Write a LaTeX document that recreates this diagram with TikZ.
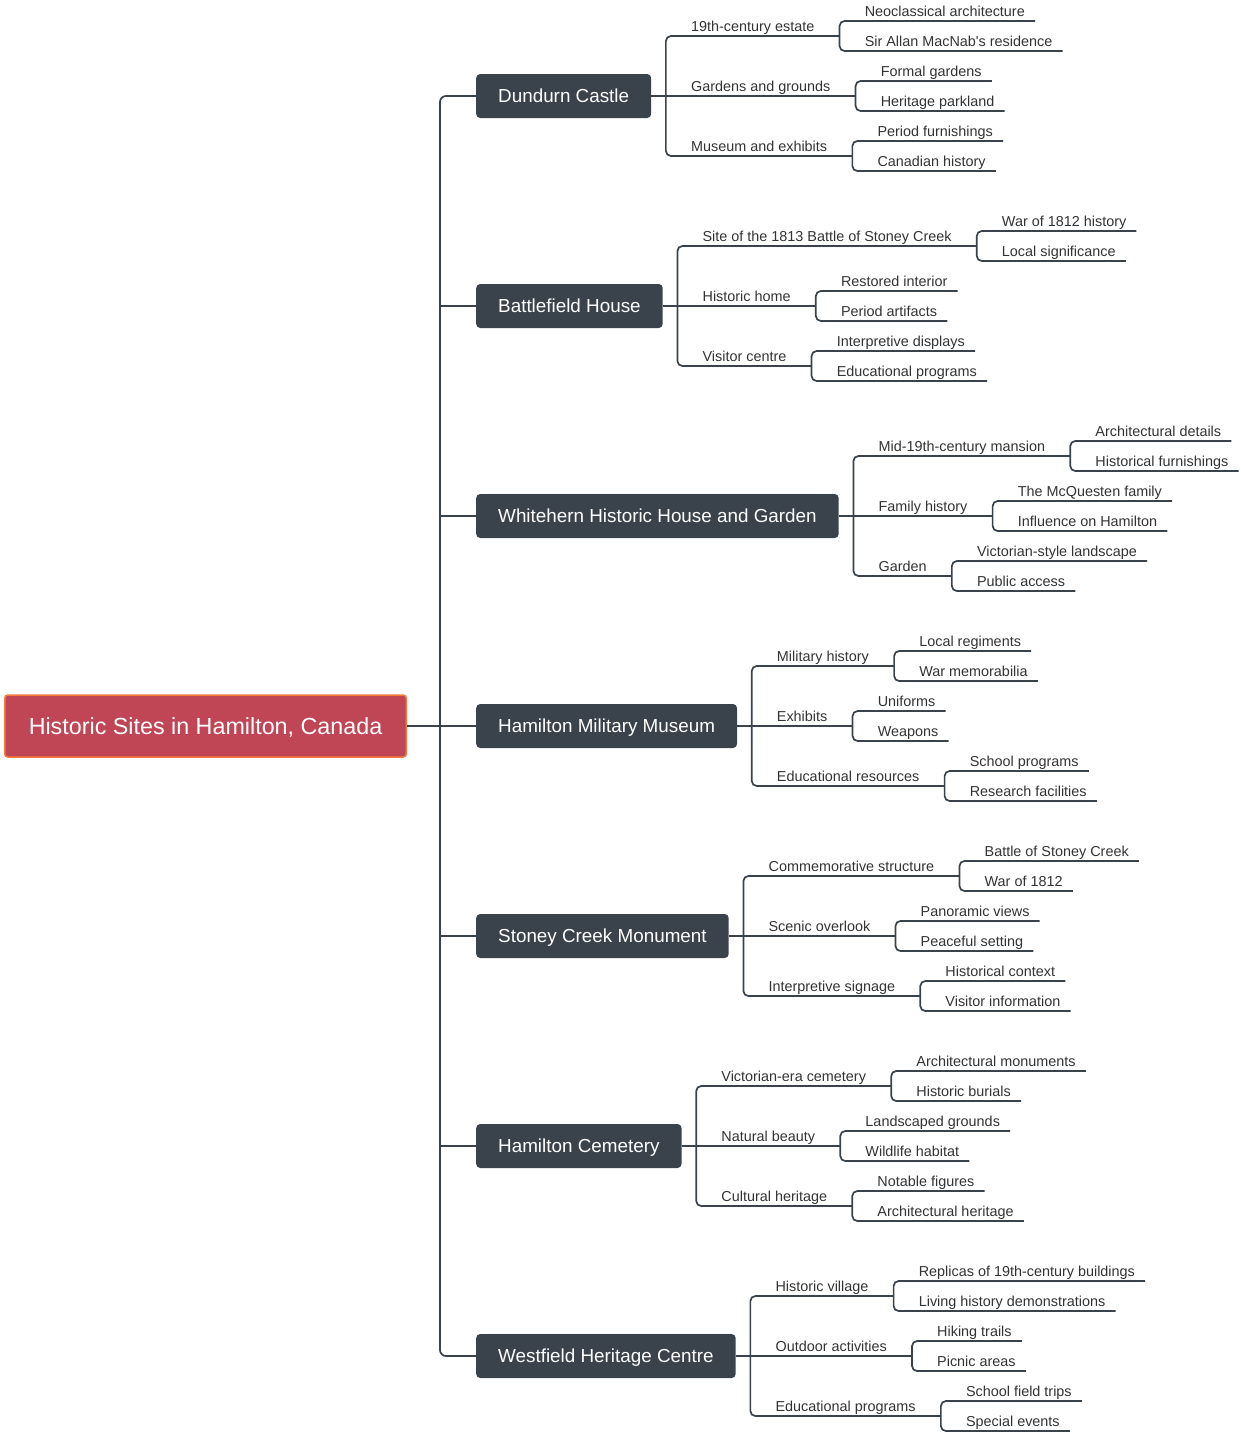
\documentclass[tikz,border=0pt]{standalone}
\usepackage{fontspec}
\setmainfont{Liberation Sans}
\usepackage{tikz}
\usetikzlibrary{positioning}
\definecolor{rootred}{RGB}{192,70,86}
\definecolor{rootedge}{RGB}{245,122,60}
\definecolor{slate}{RGB}{58,67,76}
\tikzset{
    link/.style={draw=slate, line width=1.7pt},
    rootbox/.style={anchor=west, fill=rootred, draw=rootedge, line width=1.5pt, rounded corners=3pt,
        text=white, minimum height=62pt, inner xsep=24pt, text depth=0pt, font=\fontsize{23.3}{28}\selectfont},
    sitebox/.style={anchor=west, fill=slate, rounded corners=4pt, text=white, text depth=0pt,
        minimum height=44pt, inner xsep=22pt, font=\fontsize{18.85}{22}\selectfont},
    topic/.style={anchor=south west, inner xsep=0pt, inner ysep=1.5pt, text depth=3pt,
        text=black!80, font=\fontsize{14.4}{17}\selectfont},
    leaf/.style={topic}
}
\begin{document}
\begin{tikzpicture}[x=1pt,y=-1pt]
        \useasboundingbox (0,0) rectangle (1240,1432);
        \node[rootbox] (root) at (4,726) {Historic Sites in Hamilton, Canada};
        % sites
        \foreach \g/\site in {1/Dundurn Castle, 2/Battlefield House, 3/Whitehern Historic House and Garden,
                4/Hamilton Military Museum, 5/Stoney Creek Monument, 6/Hamilton Cemetery, 7/Westfield Heritage Centre}{
            \node[sitebox] (s\g) at (476,{96+(\g-1)*210}) {\site};
            \coordinate (sv\g) at ([xshift=14.5pt]s\g.east);
        }
        \coordinate (trunk) at (440,726);
        \draw[link, rounded corners=6pt] (s1.west) -| (trunk) |- (s7.west);
        \foreach \g in {2,3,5,6}
            \draw[link] (s\g.west -| trunk) -- (s\g.west);
        \draw[link] (root.east) -- (s4.west);
        % topics and details
        \foreach \g/\k/\lab/\la/\lb in {
                1/1/19th-century estate/Neoclassical architecture/Sir Allan MacNab\textquotesingle s residence,
                1/2/Gardens and grounds/Formal gardens/Heritage parkland,
                1/3/Museum and exhibits/Period furnishings/Canadian history,
                2/1/Site of the 1813 Battle of Stoney Creek/War of 1812 history/Local significance,
                2/2/Historic home/Restored interior/Period artifacts,
                2/3/Visitor centre/Interpretive displays/Educational programs,
                3/1/Mid-19th-century mansion/Architectural details/Historical furnishings,
                3/2/Family history/The McQuesten family/Influence on Hamilton,
                3/3/Garden/Victorian-style landscape/Public access,
                4/1/Military history/Local regiments/War memorabilia,
                4/2/Exhibits/Uniforms/Weapons,
                4/3/Educational resources/School programs/Research facilities,
                5/1/Commemorative structure/Battle of Stoney Creek/War of 1812,
                5/2/Scenic overlook/Panoramic views/Peaceful setting,
                5/3/Interpretive signage/Historical context/Visitor information,
                6/1/Victorian-era cemetery/Architectural monuments/Historic burials,
                6/2/Natural beauty/Landscaped grounds/Wildlife habitat,
                6/3/Cultural heritage/Notable figures/Architectural heritage,
                7/1/Historic village/Replicas of 19th-century buildings/Living history demonstrations,
                7/2/Outdoor activities/Hiking trails/Picnic areas,
                7/3/Educational programs/School field trips/Special events}{
            \pgfmathsetmacro\yy{96+(\g-1)*210+(\k-2)*60}
            \path (sv\g |- 0,\yy) coordinate (c\g\k);
            \node[topic] (t\g\k) at ([xshift=25pt]c\g\k) {\lab};
            \coordinate (tv\g\k) at ([xshift=25pt]t\g\k.south east);
            \node[leaf] (u\g\k-a) at ([xshift=25pt,yshift=15pt]tv\g\k) {\la};
            \node[leaf] (u\g\k-b) at ([xshift=25pt,yshift=-15pt]tv\g\k) {\lb};
            \draw[link, rounded corners=5pt] ([xshift=10pt]u\g\k-a.south east) -| (tv\g\k) |- ([xshift=10pt]u\g\k-b.south east);
        }
        % branches
        \foreach \g in {1,...,7}{
            \draw[link, rounded corners=5pt] (tv\g1) -| (sv\g) |- (tv\g3);
            \draw[link] (s\g.east) -- (tv\g2);
        }
    \end{tikzpicture}
\end{document}
